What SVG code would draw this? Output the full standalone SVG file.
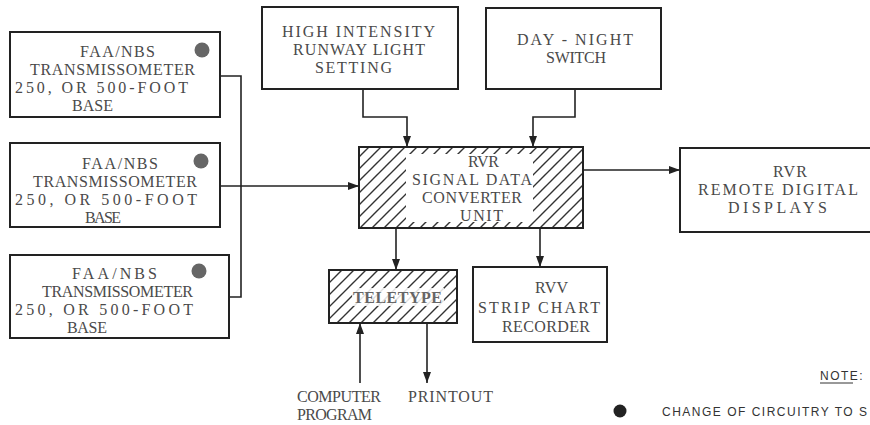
<svg xmlns="http://www.w3.org/2000/svg" width="870" height="425" viewBox="0 0 870 425">
<style>
.box{fill:#fff;stroke:#222;stroke-width:2}
.hbox{fill:url(#hatch);stroke:#222;stroke-width:2}
.t{font-family:"Liberation Serif","DejaVu Serif",serif;font-size:16px;fill:#4a4a4a}
.s{font-family:"Liberation Sans","DejaVu Sans",sans-serif;font-size:12px;fill:#333;letter-spacing:1.5px}
.dot{fill:#666}
.c{fill:none;stroke:#222;stroke-width:1.6}
</style>
<defs>
<pattern id="hatch" patternUnits="userSpaceOnUse" width="12" height="12">
<path d="M-3,3 L3,-3 M0,12 L12,0 M9,15 L15,9" stroke="#333" stroke-width="1.4"/>
</pattern>
<marker id="ah" markerUnits="userSpaceOnUse" markerWidth="12" markerHeight="8" refX="11" refY="4" orient="auto">
<path d="M0,0 L11,4 L0,8 z" fill="#222"/>
</marker>
</defs>

<g id="conn">
<path class="c" d="M220,76 H241 V297 H229"/>
<path class="c" d="M220,186 H359" marker-end="url(#ah)"/>
<path class="c" d="M363,89 V117 H407 V147" marker-end="url(#ah)"/>
<path class="c" d="M575,89 V117 H533 V147" marker-end="url(#ah)"/>
<path class="c" d="M583,170 H680" marker-end="url(#ah)"/>
<path class="c" d="M396,228 V270" marker-end="url(#ah)"/>
<path class="c" d="M540,228 V267" marker-end="url(#ah)"/>
<path class="c" d="M360,383 V323" marker-end="url(#ah)"/>
<path class="c" d="M427,323 V383" marker-end="url(#ah)"/>
</g>

<g id="trans1">
<rect class="box" x="10" y="32" width="210" height="85"/>
<circle class="dot" cx="202" cy="50" r="7.5"/>
<text class="t" x="80" y="57" textLength="75">FAA/NBS</text>
<text class="t" x="30" y="75" textLength="165">TRANSMISSOMETER</text>
<text class="t" x="15" y="93" textLength="173">250, OR 500-FOOT</text>
<text class="t" x="72" y="111" textLength="41">BASE</text>
</g>

<g id="trans2">
<rect class="box" x="10" y="143" width="210" height="84"/>
<circle class="dot" cx="201" cy="161" r="7.5"/>
<text class="t" x="82" y="169" textLength="76">FAA/NBS</text>
<text class="t" x="33" y="187" textLength="164">TRANSMISSOMETER</text>
<text class="t" x="15" y="205" textLength="182">250, OR 500-FOOT</text>
<text class="t" x="85" y="223" textLength="36">BASE</text>
</g>

<g id="trans3">
<rect class="box" x="10" y="255" width="219" height="83"/>
<circle class="dot" cx="199" cy="271" r="7.5"/>
<text class="t" x="72" y="279" textLength="85">FAA/NBS</text>
<text class="t" x="42" y="297" textLength="151">TRANSMISSOMETER</text>
<text class="t" x="15" y="315" textLength="178">250, OR 500-FOOT</text>
<text class="t" x="67" y="333" textLength="40">BASE</text>
</g>

<g id="runway">
<rect class="box" x="262" y="7" width="196" height="82"/>
<text class="t" x="282" y="37" textLength="153">HIGH INTENSITY</text>
<text class="t" x="293" y="55" textLength="132">RUNWAY LIGHT</text>
<text class="t" x="315" y="73" textLength="77">SETTING</text>
</g>

<g id="daynight">
<rect class="box" x="486" y="8" width="175" height="81"/>
<text class="t" x="517" y="45" textLength="116">DAY - NIGHT</text>
<text class="t" x="546" y="63" textLength="60">SWITCH</text>
</g>

<g id="converter">
<rect class="hbox" x="359" y="147" width="224" height="81"/>
<rect x="406" y="154" width="127" height="68" fill="#fff"/>
<text class="t" x="468" y="167" textLength="31">RVR</text>
<text class="t" x="412" y="185" textLength="120">SIGNAL DATA</text>
<text class="t" x="422" y="203" textLength="100">CONVERTER</text>
<text class="t" x="460" y="221" textLength="43">UNIT</text>
</g>

<g id="remote">
<rect class="box" x="680" y="148" width="200" height="84"/>
<text class="t" x="773" y="177" textLength="34">RVR</text>
<text class="t" x="698" y="195" textLength="160">REMOTE DIGITAL</text>
<text class="t" x="728" y="213" textLength="99">DISPLAYS</text>
</g>

<g id="teletype">
<rect class="hbox" x="329" y="270" width="128" height="53"/>
<rect x="352" y="288" width="92" height="18" fill="#fff" opacity="0.85"/>
<text class="t" x="353" y="303" textLength="89" style="font-weight:bold;fill:#666">TELETYPE</text>
</g>

<g id="recorder">
<rect class="box" x="473" y="267" width="134" height="75"/>
<text class="t" x="535" y="293" textLength="33">RVV</text>
<text class="t" x="478" y="313" textLength="122">STRIP CHART</text>
<text class="t" x="502" y="332" textLength="88">RECORDER</text>
</g>

<g id="computer">
<text class="t" x="297" y="402" textLength="84">COMPUTER</text>
<text class="t" x="297" y="420" textLength="75">PROGRAM</text>
</g>

<g id="printout">
<text class="t" x="408" y="402" textLength="85">PRINTOUT</text>
</g>

<g id="note">
<text class="s" x="820" y="380">NOTE:</text>
<line x1="820" y1="383" x2="853" y2="383" stroke="#333" stroke-width="1"/>
<circle cx="620" cy="411" r="6.5" fill="#222"/>
<text class="s" x="662" y="416">CHANGE OF CIRCUITRY TO S</text>
</g>
</svg>
